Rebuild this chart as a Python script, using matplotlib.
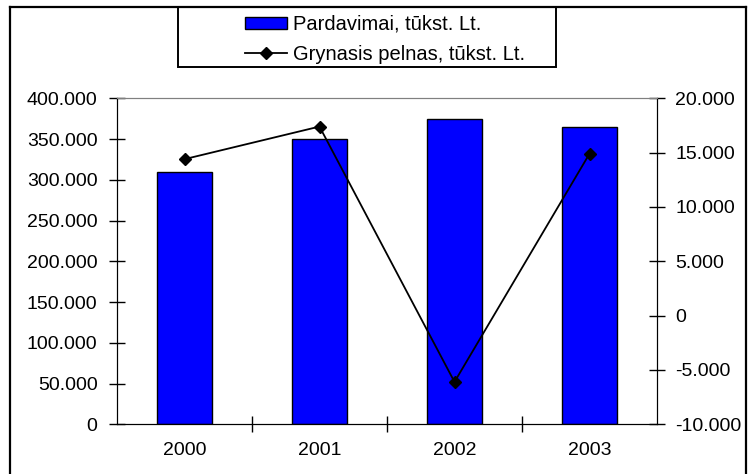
import matplotlib
matplotlib.use("Agg")
import matplotlib.pyplot as plt
from matplotlib.patches import Rectangle
from matplotlib.lines import Line2D
import numpy as np

plt.rcParams['font.family'] = ['Liberation Sans', 'DejaVu Sans']

# data (tūkst. Lt)
years = ["2000", "2001", "2002", "2003"]
sales = [309, 350, 375, 365]          # Pardavimai
profit = [14.4, 17.4, -6.1, 14.9]     # Grynasis pelnas

salesLabel = "Pardavimai, tūkst. Lt."
profitLabel = "Grynasis pelnas, tūkst. Lt."

leftTicks = [0, 50, 100, 150, 200, 250, 300, 350, 400]
rightTicks = [-10, -5, 0, 5, 10, 15, 20]

fontSize = 14
W, H = 751, 474


def fmt(v):
    # thousands written with a dot, e.g. 350.000
    if v == 0:
        return "0"
    return "{}.000".format(v)


fig = plt.figure(figsize=(W / 100, H / 100), dpi=100)
ax = fig.add_axes([117 / W, 1 - 424.3 / H, 540 / W, 326 / H])

x = np.arange(len(years))
bars = ax.bar(x, sales, width=0.41, color="#0000FF", edgecolor="black",
              linewidth=1.0, label=salesLabel, zorder=2)
ax.set_xlim(-0.5, len(years) - 0.5)
ax.set_ylim(0, 400)
ax.set_yticks(leftTicks)
ax.set_yticklabels([fmt(v) for v in leftTicks])

ax2 = ax.twinx()
line, = ax2.plot(x, profit, color="black", linewidth=1.3, marker="D",
                 markersize=6.5, label=profitLabel, zorder=3)
ax2.set_ylim(-10, 20)
ax2.set_yticks(rightTicks)
ax2.set_yticklabels([fmt(v) for v in rightTicks])

# x axis: labels at centres, tick marks between categories
ax.set_xticks(x)
ax.set_xticklabels(years)
ax.set_xticks(np.arange(0.5, len(years) - 0.5, 1), minor=True)
ax.tick_params(axis="x", which="major", length=0, pad=13, labelsize=fontSize)
ax.tick_params(axis="x", which="minor", direction="inout", length=11, width=1)
ax.tick_params(axis="y", direction="inout", length=12, width=1, pad=8,
               labelsize=fontSize)
ax2.tick_params(axis="y", direction="inout", length=12, width=1, pad=7,
                labelsize=fontSize)

for a in (ax, ax2):
    a.spines["top"].set_color("#808080")
    a.spines["left"].set_color("black")
    a.spines["right"].set_color("black")
    a.spines["bottom"].set_color("black")

# legend box
fig.patches.append(Rectangle((178 / W, 1 - 67 / H), 378 / W, 60 / H,
                             transform=fig.transFigure, fill=False,
                             edgecolor="black", linewidth=1.4))
fig.legend([bars, line], [salesLabel, profitLabel], loc="upper left",
           bbox_to_anchor=(245 / W, 1 - 15 / H), frameon=False,
           fontsize=14.5, handlelength=2.1, handleheight=0.55,
           handletextpad=0.3, labelspacing=0.55, borderpad=0,
           borderaxespad=0)

# outer chart frame
fig.add_artist(Line2D([10 / W, 10 / W], [0, 1 - 7 / H],
                      transform=fig.transFigure, color="black", linewidth=1.6))
fig.add_artist(Line2D([10 / W, 746 / W], [1 - 7 / H, 1 - 7 / H],
                      transform=fig.transFigure, color="black", linewidth=1.6))
fig.add_artist(Line2D([746 / W, 746 / W], [0, 1 - 7 / H],
                      transform=fig.transFigure, color="black", linewidth=1.6))

fig.savefig("out.png", dpi=100)
